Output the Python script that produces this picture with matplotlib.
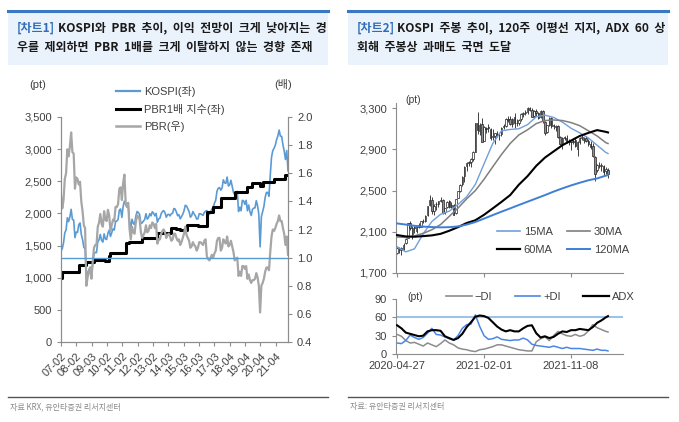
import numpy as np
import matplotlib.pyplot as plt
from matplotlib.lines import Line2D
from matplotlib.patches import Rectangle

plt.rcParams['font.family'] = ['Liberation Sans', 'Noto Sans CJK KR']
plt.rcParams['axes.unicode_minus'] = False

# ---- chart 1: monthly, 2007-02 .. 2022-01 ----
kospi = [
    1417, 1452, 1542, 1700, 1743, 1933, 1873, 1946, 2064, 1906, 1897,
    1624, 1711, 1704, 1825, 1852, 1674, 1594, 1474, 1448, 1050, 1076, 1124,
    1162, 1063, 1206, 1369, 1395, 1390, 1557, 1591, 1673, 1580, 1555, 1682,
    1602, 1594, 1692, 1741, 1641, 1698, 1759, 1742, 1872, 1882, 1904, 2051,
    2069, 1939, 2106, 2192, 2142, 2100, 2133, 1880, 1770, 1909, 1847, 1826,
    1956, 2030, 2014, 1982, 1844, 1854, 1881, 1905, 1996, 1912, 1933, 1997,
    1962, 2026, 2005, 1963, 2001, 1863, 1914, 1926, 1997, 2030, 2044, 2011,
    1941, 1980, 1986, 1961, 1995, 2002, 2076, 2068, 2020, 1964, 1981, 1916,
    1949, 1986, 2041, 2127, 2115, 2074, 2030, 1941, 1963, 2029, 1992, 1961,
    1912, 1917, 1996, 1994, 1983, 1970, 2016, 2035, 2044, 2008, 1983, 2026,
    2068, 2091, 2160, 2205, 2347, 2392, 2402, 2363, 2394, 2523, 2476, 2467,
    2566, 2427, 2445, 2515, 2423, 2326, 2295, 2323, 2343, 2030, 2097, 2041,
    2204, 2195, 2141, 2204, 2041, 2131, 2025, 1968, 2063, 2083, 2088, 2198,
    2119, 1987, 1480, 1947, 2030, 2108, 2249, 2326, 2328, 2267, 2591, 2873,
    2976, 3013, 3061, 3148, 3204, 3297, 3202, 3199, 3069, 2971, 2839, 2978,
    2663]

pbr1x = [
    995, 1090, 1090, 1090, 1090, 1090, 1090, 1090, 1090, 1090, 1090,
    1090, 1090, 1090, 1200, 1200, 1200, 1200, 1200, 1200, 1245, 1245, 1245,
    1245, 1245, 1245, 1280, 1280, 1278, 1276, 1275, 1273, 1272, 1270, 1268,
    1266, 1265, 1265, 1340, 1380, 1380, 1380, 1380, 1380, 1380, 1380, 1380,
    1380, 1380, 1380, 1380, 1540, 1540, 1540, 1560, 1560, 1560, 1560, 1560,
    1560, 1560, 1560, 1560, 1560, 1620, 1620, 1620, 1620, 1620, 1620, 1620,
    1620, 1620, 1620, 1620, 1620, 1700, 1700, 1700, 1700, 1700, 1700, 1700,
    1700, 1700, 1700, 1700, 1775, 1775, 1775, 1770, 1765, 1760, 1755, 1750,
    1748, 1746, 1745, 1745, 1820, 1820, 1820, 1820, 1820, 1820, 1820, 1820,
    1820, 1800, 1800, 1800, 1800, 1800, 1800, 1800, 2020, 2020, 2020, 2020,
    2020, 2100, 2100, 2100, 2100, 2100, 2100, 2240, 2240, 2240, 2240, 2240,
    2240, 2240, 2240, 2240, 2240, 2240, 2335, 2335, 2335, 2335, 2335, 2335,
    2335, 2335, 2335, 2335, 2410, 2410, 2410, 2410, 2470, 2470, 2470, 2470,
    2470, 2470, 2430, 2430, 2490, 2490, 2490, 2490, 2490, 2490, 2490, 2490,
    2490, 2540, 2540, 2540, 2540, 2540, 2540, 2540, 2540, 2540, 2600, 2600,
    2600]

pbr = [
    1.45, 1.35, 1.41, 1.56, 1.60, 1.77, 1.72, 1.79, 1.89, 1.75, 1.74,
    1.49, 1.57, 1.56, 1.52, 1.54, 1.40, 1.33, 1.23, 1.21, 0.80, 0.86, 0.90,
    0.93, 0.85, 0.97, 1.07, 1.09, 1.09, 1.22, 1.25, 1.31, 1.24, 1.22, 1.33,
    1.27, 1.26, 1.34, 1.30, 1.19, 1.23, 1.27, 1.26, 1.36, 1.36, 1.38, 1.49,
    1.50, 1.41, 1.53, 1.59, 1.39, 1.36, 1.39, 1.21, 1.13, 1.22, 1.18, 1.17,
    1.25, 1.30, 1.29, 1.27, 1.18, 1.14, 1.16, 1.18, 1.23, 1.18, 1.19, 1.23,
    1.21, 1.25, 1.24, 1.21, 1.24, 1.10, 1.13, 1.13, 1.17, 1.19, 1.20, 1.18,
    1.14, 1.16, 1.17, 1.15, 1.12, 1.13, 1.17, 1.17, 1.14, 1.12, 1.13, 1.09,
    1.11, 1.14, 1.17, 1.22, 1.16, 1.14, 1.12, 1.07, 1.08, 1.11, 1.09, 1.08,
    1.05, 1.07, 1.11, 1.11, 1.10, 1.09, 1.12, 1.13, 1.01, 0.99, 0.98, 1.00,
    1.02, 1.00, 1.03, 1.05, 1.12, 1.14, 1.14, 1.05, 1.07, 1.13, 1.11, 1.10,
    1.15, 1.08, 1.09, 1.12, 1.08, 1.04, 0.98, 0.99, 1.00, 0.87, 0.90, 0.87,
    0.94, 0.94, 0.92, 0.94, 0.85, 0.88, 0.84, 0.82, 0.84, 0.84, 0.85, 0.89,
    0.86, 0.80, 0.61, 0.80, 0.82, 0.85, 0.90, 0.93, 0.93, 0.91, 1.04, 1.15,
    1.20, 1.19, 1.21, 1.24, 1.26, 1.30, 1.26, 1.26, 1.21, 1.17, 1.09, 1.15,
    1.02]

year_labels = ['07-02', '08-02', '09-03', '10-02', '11-02', '12-02', '13-02', '14-03',
               '15-03', '16-03', '17-03', '18-04', '19-04', '20-04', '21-04']

# ---- chart 2: weekly KOSPI, 2020-04-27 .. 2022-03-07 ----
w_open = [1890, 1920, 1945, 1937, 1990, 2040, 2190, 2080, 2145, 2110,
          2170, 2150, 2205, 2205, 2260, 2360, 2410, 2300, 2365, 2370,
          2400, 2405, 2290, 2340, 2395, 2340, 2360, 2280, 2430, 2500,
          2560, 2640, 2740, 2775, 2775, 2810, 2875, 3160, 3080, 3150,
          2980, 3110, 3120, 3100, 3020, 3030, 3050, 3040, 3050, 3115,
          3130, 3195, 3190, 3150, 3210, 3160, 3160, 3190, 3245, 3250,
          3260, 3300, 3285, 3220, 3270, 3250, 3210, 3275, 3170, 3070,
          3140, 3200, 3130, 3120, 3130, 3020, 2950, 3020, 3010, 2980,
          2970, 2980, 2990, 2900, 2970, 3010, 2990, 3010, 2980, 2950,
          2930, 2830, 2700, 2740, 2740, 2740, 2690, 2700]
w_high = [1950, 1950, 1950, 1990, 2035, 2190, 2200, 2160, 2160, 2160,
          2190, 2205, 2225, 2265, 2355, 2458, 2440, 2370, 2390, 2400,
          2440, 2420, 2335, 2400, 2410, 2385, 2370, 2420, 2500, 2560,
          2640, 2735, 2780, 2790, 2820, 2880, 3160, 3266, 3160, 3200,
          3130, 3120, 3150, 3110, 3100, 3060, 3080, 3060, 3115, 3150,
          3200, 3220, 3220, 3200, 3250, 3190, 3190, 3250, 3260, 3280,
          3310, 3316, 3305, 3285, 3290, 3260, 3280, 3280, 3180, 3140,
          3210, 3210, 3150, 3140, 3140, 3030, 3020, 3030, 3040, 3000,
          2980, 3010, 3020, 2980, 3020, 3040, 3020, 3030, 3000, 2980,
          2960, 2840, 2760, 2780, 2770, 2750, 2730, 2720]
w_low = [1885, 1891, 1876, 1925, 1980, 2035, 2120, 2030, 2090, 2090,
         2140, 2145, 2190, 2195, 2255, 2350, 2270, 2260, 2310, 2340,
         2390, 2270, 2275, 2330, 2330, 2330, 2260, 2270, 2425, 2490,
         2540, 2580, 2690, 2740, 2730, 2790, 2870, 3050, 3040, 2970,
         2980, 3060, 3070, 2990, 2990, 2950, 3020, 2990, 3030, 3100,
         3120, 3170, 3140, 3120, 3110, 3130, 3140, 3180, 3210, 3230,
         3240, 3270, 3210, 3200, 3220, 3190, 3200, 3160, 3040, 3060,
         3130, 3110, 3100, 3080, 3010, 2940, 2900, 2990, 2960, 2940,
         2890, 2950, 2920, 2840, 2950, 2990, 2960, 2970, 2930, 2900,
         2830, 2590, 2680, 2720, 2690, 2640, 2660, 2620]
w_close = [1947, 1945, 1927, 1970, 2029, 2181, 2132, 2141, 2134, 2152,
           2150, 2201, 2200, 2249, 2351, 2407, 2304, 2353, 2368, 2396,
           2412, 2278, 2327, 2391, 2341, 2360, 2267, 2416, 2493, 2553,
           2633, 2731, 2770, 2772, 2806, 2873, 3152, 3085, 3140, 2976,
           3120, 3100, 3107, 3013, 3026, 3054, 3039, 3041, 3112, 3131,
           3198, 3186, 3147, 3197, 3153, 3156, 3188, 3240, 3249, 3267,
           3302, 3281, 3217, 3276, 3254, 3202, 3270, 3171, 3060, 3133,
           3201, 3125, 3140, 3125, 3019, 2956, 3015, 3006, 2970, 2969,
           2968, 2971, 2936, 2968, 3010, 3017, 2999, 2978, 2954, 2921,
           2834, 2663, 2750, 2747, 2744, 2676, 2713, 2661]

ma_week = [0, 4, 8, 12, 16, 20, 24, 28, 32, 36, 40, 44, 48, 52, 56, 60, 64,
           68, 72, 76, 80, 84, 88, 92, 96, 97]
ma15 = [1955, 1905, 1935, 2080, 2200, 2270, 2300, 2365, 2440, 2560, 2760, 2957, 3080,
        3093, 3100, 3140, 3216, 3232, 3210, 3165, 3105, 3060, 3010, 2940, 2870, 2860]
ma30 = [2050, 2045, 2060, 2085, 2120, 2170, 2250, 2330, 2420, 2500, 2610, 2731, 2850,
        2957, 3040, 3090, 3150, 3180, 3185, 3180, 3160, 3130, 3080, 3030, 2965, 2957]
ma60 = [2068, 2055, 2052, 2058, 2065, 2080, 2110, 2145, 2185, 2212, 2265, 2327, 2390,
        2456, 2557, 2640, 2740, 2820, 2880, 2940, 2985, 3030, 3060, 3087, 3070, 3064]
ma120 = [2181, 2170, 2158, 2150, 2146, 2143, 2145, 2152, 2170, 2195, 2228, 2262, 2295,
         2327, 2360, 2392, 2424, 2456, 2490, 2521, 2550, 2576, 2600, 2618, 2645, 2650]

di_week = list(range(0, 97, 2)) + [97]
adx = [47, 42, 35, 33, 31, 29, 30, 37, 39, 39, 38, 29, 26, 23, 26, 33, 44, 52, 61, 63,
       62, 59, 52, 45, 40, 37, 39, 37, 37, 42, 46, 47, 34, 27, 29, 26, 28, 33, 37, 36,
       39, 39, 41, 40, 39, 44, 51, 55, 60, 62]
plus_di = [18, 17, 22, 31, 27, 24, 27, 34, 42, 32, 31, 28, 25, 23, 30, 42, 48, 49, 64, 45,
           30, 24, 25, 28, 24, 23, 22, 23, 23, 26, 23, 16, 14, 13, 12, 11, 13, 11, 9, 11,
           9, 9, 9, 8, 7, 6, 8, 6, 6, 5]
minus_di = [32, 29, 22, 18, 19, 16, 13, 18, 15, 12, 17, 23, 18, 15, 10, 8, 7, 5, 4, 7,
            8, 10, 12, 15, 15, 13, 11, 9, 7, 6, 5, 5, 20, 25, 28, 22, 30, 37, 33, 30,
            29, 32, 29, 31, 38, 48, 43, 40, 37, 36]
week_labels = ['2020-04-27', '2021-02-01', '2021-11-08']

# ---------------------------------------------------------------
W, H = 679, 422
fig = plt.figure(figsize=(W / 100, H / 100), dpi=100)


def rect(x0, y0, x1, y1):
    return [x0 / W, 1 - y1 / H, (x1 - x0) / W, (y1 - y0) / H]


def fx(x):
    return x / W


def fy(y):
    return 1 - y / H


TXT = '#404040'
SPINE = '#8c8c8c'
KR = ['Noto Sans CJK KR']

# header boxes, titles, footer
for x0, x1 in [(8, 328), (348, 668)]:
    fig.add_artist(Rectangle((fx(x0), fy(65)), (x1 - x0) / W, 54 / H,
                             transform=fig.transFigure, facecolor='#eaf2fb', edgecolor='none'))
    fig.add_artist(Line2D([fx(x0), fx(x1)], [fy(11), fy(11)], color='#3b78c3', lw=2.2))
    fig.add_artist(Line2D([fx(x0), fx(x1)], [fy(397), fy(397)], color='#555555', lw=1.0))

tkw = dict(family=KR, weight='bold', fontsize=8.6, va='center')
fig.text(fx(17), fy(28), '[차트1]', color='#2f6db8', **tkw)
fig.text(fx(58), fy(28), 'KOSPI와  PBR  추이,  이익  전망이  크게  낮아지는  경', color='#1a1a1a', **tkw)
fig.text(fx(17), fy(47), '우를  제외하면  PBR  1배를  크게  이탈하지  않는  경향  존재', color='#1a1a1a', **tkw)
fig.text(fx(357), fy(28), '[차트2]', color='#2f6db8', **tkw)
fig.text(fx(397), fy(28), 'KOSPI  주봉  추이,  120주  이평선  지지,  ADX  60  상', color='#1a1a1a', **tkw)
fig.text(fx(357), fy(47), '회해  주봉상  과매도  국면  도달', color='#1a1a1a', **tkw)

fig.text(fx(10), fy(407), '자료 KRX, 유안타증권 리서치센터', family=KR, fontsize=5.8,
         color='#8a8a8a', va='center')
fig.text(fx(350), fy(407), '자료: 유안타증권 리서치센터', family=KR, fontsize=5.8,
         color='#8a8a8a', va='center')


def style(ax, sides):
    for s in ['left', 'right', 'top', 'bottom']:
        ax.spines[s].set_visible(s in sides)
        ax.spines[s].set_color(SPINE)
        ax.spines[s].set_linewidth(0.8)
    ax.tick_params(colors=SPINE, labelcolor=TXT, labelsize=8, length=3, width=0.8)


# ---- chart 1 ----
x = np.arange(len(kospi))
ax1 = fig.add_axes(rect(61, 117, 288, 342))
ax1.plot(x, kospi, color='#5b9bd5', lw=1.2)
ax1.plot(x, pbr1x, color='black', lw=2.2, drawstyle='steps-post')
ax1.set_xlim(0, len(kospi) - 1)
ax1.set_ylim(0, 3500)
ax1.set_yticks(range(0, 3501, 500))
ax1.set_yticklabels([f'{v:,}' for v in range(0, 3501, 500)])
ax1.set_xticks(np.arange(len(year_labels)) * 12.1)
ax1.set_xticklabels(year_labels, rotation=45, ha='right', rotation_mode='anchor')
style(ax1, ['left', 'bottom', 'right'])

ax2 = ax1.twinx()
ax2.plot(x, pbr, color='#a6a6a6', lw=1.6)
ax2.axhline(1.0, color='#5b9bd5', lw=1.0)
ax2.set_ylim(0.4, 2.0)
ax2.set_yticks(np.arange(0.4, 2.01, 0.2))
ax2.set_yticklabels([f'{v:.1f}' for v in np.arange(0.4, 2.01, 0.2)])
style(ax2, ['left', 'bottom', 'right'])

fig.text(fx(38), fy(85), '(pt)', fontsize=8, color=TXT, ha='center', va='center')
fig.text(fx(283), fy(85), '(배)', fontsize=8, color=TXT, ha='center', va='center')
h1 = [Line2D([], [], color='#5b9bd5', lw=1.6), Line2D([], [], color='black', lw=2.2),
      Line2D([], [], color='#a6a6a6', lw=1.8)]
fig.legend(h1, ['KOSPI(좌)', 'PBR1배 지수(좌)', 'PBR(우)'], loc='upper left',
           bbox_to_anchor=(fx(116), fy(86)), frameon=False, fontsize=8, labelcolor=TXT,
           handlelength=2.2, handletextpad=0.35, labelspacing=0.6, borderpad=0, borderaxespad=0)

# ---- chart 2: candles ----
wk = np.arange(len(w_close))
o = np.array(w_open)
c = np.array(w_close)
up = c >= o
ax3 = fig.add_axes(rect(396, 103, 623, 273))
ax3.vlines(wk, w_low, w_high, color='#222222', lw=0.6, zorder=1)
ax3.bar(wk[up], (c - o)[up], bottom=o[up], width=0.7, color='white',
        edgecolor='#222222', lw=0.5, zorder=2)
ax3.bar(wk[~up], (o - c)[~up], bottom=c[~up], width=0.7, color='#8f8f8f',
        edgecolor='#222222', lw=0.5, zorder=2)
ax3.plot(ma_week, ma15, color='#6f9fdc', lw=1.0, zorder=3)
ax3.plot(ma_week, ma30, color='#7f7f7f', lw=1.1, zorder=3)
ax3.plot(ma_week, ma60, color='black', lw=1.5, zorder=3)
ax3.plot(ma_week, ma120, color='#3f7fd6', lw=1.4, zorder=3)
ax3.set_xlim(-0.5, 103.9)
ax3.set_ylim(1700, 3350)
ax3.set_yticks(range(1700, 3301, 400))
ax3.set_yticklabels([f'{v:,}' for v in range(1700, 3301, 400)])
ax3.set_xticks([0, 40, 80])
ax3.set_xticklabels([])
style(ax3, ['left', 'bottom'])
fig.text(fx(413), fy(100), '(pt)', fontsize=7.5, color=TXT, ha='center', va='center')
h2 = [Line2D([], [], color='#6f9fdc', lw=1.2), Line2D([], [], color='black', lw=1.6),
      Line2D([], [], color='#7f7f7f', lw=1.2), Line2D([], [], color='#3f7fd6', lw=1.4)]
fig.legend(h2, ['15MA', '60MA', '30MA', '120MA'], ncol=2, loc='upper left',
           bbox_to_anchor=(fx(497), fy(227)), frameon=False, fontsize=8, labelcolor=TXT,
           handlelength=2.1, handletextpad=0.3, labelspacing=0.75, columnspacing=1.3,
           borderpad=0, borderaxespad=0)

# ---- chart 2: DMI ----
ax4 = fig.add_axes(rect(396, 299, 623, 354))
ax4.axhline(60, color='#9dc3e6', lw=1.5, zorder=1)
ax4.plot(di_week, minus_di, color='#8c8c8c', lw=1.1, zorder=2)
ax4.plot(di_week, plus_di, color='#4a86e8', lw=1.1, zorder=2)
ax4.plot(di_week, adx, color='black', lw=1.5, zorder=3)
ax4.set_xlim(-0.5, 103.9)
ax4.set_ylim(0, 90)
ax4.set_yticks([0, 30, 60, 90])
ax4.set_xticks([0, 40, 80])
ax4.set_xticklabels(week_labels)
style(ax4, ['left', 'bottom'])
ax4.tick_params(axis='x', pad=2)
fig.text(fx(415), fy(297), '(pt)', fontsize=7.5, color=TXT, ha='center', va='center')
h3 = [Line2D([], [], color='#8c8c8c', lw=1.2), Line2D([], [], color='#4a86e8', lw=1.2),
      Line2D([], [], color='black', lw=1.6)]
fig.legend(h3, ['−DI', '+DI', 'ADX'], ncol=3, loc='upper left',
           bbox_to_anchor=(fx(446), fy(292)), frameon=False, fontsize=8, labelcolor=TXT,
           handlelength=2.3, handletextpad=0.3, columnspacing=2.0,
           borderpad=0, borderaxespad=0)

fig.savefig('out.png', dpi=100)
